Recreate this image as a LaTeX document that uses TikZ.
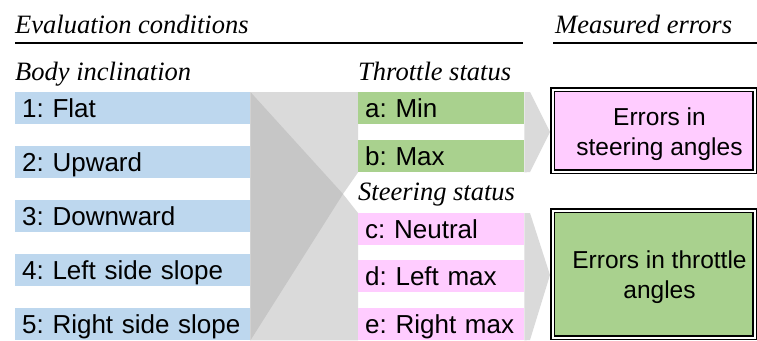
\documentclass[tikz,border=0pt]{standalone}
\usepackage{fontspec}
\setmainfont{Liberation Serif}
\setsansfont{Liberation Sans}
\definecolor{barblue}{HTML}{BDD7EE}
\definecolor{bargreen}{HTML}{A9D18E}
\definecolor{barpink}{HTML}{FFCCFF}
\definecolor{flowlight}{RGB}{218,218,218}
\definecolor{flowdark}{RGB}{198,198,198}
\begin{document}
\frenchspacing
\begin{tikzpicture}[x=1pt,y=-1pt,
  heading/.style={anchor=base west, inner sep=0pt, font=\itshape\fontsize{26.5}{30}\selectfont},
  condbar/.style={anchor=north west, inner xsep=7pt, inner ysep=0pt, minimum height=32pt,
    text height=18.5pt, text depth=0pt, align=left, font=\sffamily\fontsize{26}{30}\selectfont\frenchspacing},
  bodybar/.style={condbar, fill=barblue, text width=221pt},
  throttlebar/.style={condbar, fill=bargreen, text width=152pt},
  steerbar/.style={condbar, fill=barpink, text width=152pt},
  errbox/.style={draw=black, line width=1.3pt, double=white, double distance=2pt,
    minimum width=202pt, inner sep=0pt},
  errtext/.style={align=center, inner sep=0pt, font=\sffamily\fontsize{24.5}{30}\selectfont},
  rule/.style={line width=1.2pt, black}
]
\useasboundingbox (0,0) rectangle (757,340);

% section headings
\node[heading] (evalhead) at (15,33) {Evaluation conditions};
\node[heading] (meashead) at (555,33) {Measured errors};
\draw[rule] (15,43) -- (523,43);
\draw[rule] (553,43) -- (757,43);

\node[heading] (bodyhead) at (15,80) {Body inclination};
\node[heading] (throthead) at (358,80) {Throttle status};
\node[heading] (steerhead) at (358,200) {Steering status};

% outline of the bar columns, used to place the grey flow shapes
\path
  (15,92)  node[bodybar] (b1) {\phantom{x}}
  (15,308) node[bodybar] (b5) {\phantom{x}}
  (358,92) node[throttlebar] (ta) {\phantom{x}}
  (358,140) node[throttlebar] (tb) {\phantom{x}}
  (358,213) node[steerbar] (sc) {\phantom{x}}
  (358,308) node[steerbar] (se) {\phantom{x}};

% big grey merge shape between the body and the status columns
\coordinate (notch) at (343,194);
\fill[flowlight] (b1.north east) -- (ta.north west) -- (tb.south west) -- (notch)
  -- (sc.north west) -- (se.south west) -- (b5.south east) -- cycle;
\fill[flowdark] (b1.north east) -- (notch) -- (b5.south east) -- cycle;

% small grey chevrons towards the error boxes
\fill[flowlight] (ta.north east) -- (530,92) -- (550,132) -- (530,172) -- (tb.south east) -- cycle;
\fill[flowlight] (sc.north east) -- (530,213) -- (550,275) -- (530,340) -- (se.south east) -- cycle;

% body inclination
\node[bodybar] (b1) at (15,92)  {1: Flat};
\node[bodybar] (b2) at (15,146) {2: Upward};
\node[bodybar] (b3) at (15,200) {3: Downward};
\node[bodybar] (b4) at (15,254) {4: Left side slope};
\node[bodybar] (b5) at (15,308) {5: Right side slope};

% throttle status
\node[throttlebar] (ta) at (358,92)  {a: Min};
\node[throttlebar] (tb) at (358,140) {b: Max};

% steering status
\node[steerbar] (sc) at (358,213) {c: Neutral};
\node[steerbar] (sd) at (358,260) {d: Left max};
\node[steerbar] (se) at (358,308) {e: Right max};

% measured errors
\node[errbox, fill=barpink, minimum height=82pt] (err1) at (653.5,130.5) {};
\node[errtext] (err1txt) at ([xshift=6pt,yshift=-4pt]err1.center) {Errors in\\steering angles};
\node[errbox, fill=bargreen, minimum height=127pt] (err2) at (653.5,274) {};
\node[errtext] (err2txt) at ([xshift=6pt,yshift=-3pt]err2.center) {Errors in throttle\\angles};
\end{tikzpicture}
\end{document}
